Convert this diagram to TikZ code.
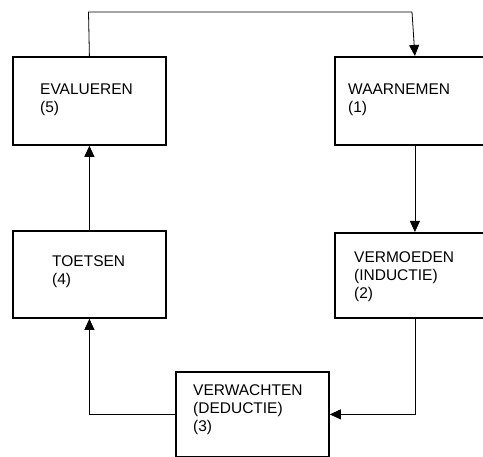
\documentclass[tikz,border=0pt]{standalone}
\usepackage{fontspec}
\setmainfont{Liberation Sans}
\usetikzlibrary{arrows.meta}
\begin{document}
\begin{tikzpicture}[x=1pt,y=-1pt,
  box/.style={draw, line width=1.8pt, rectangle, inner sep=0pt, anchor=north west},
  lbl/.style={anchor=base west, align=left, inner sep=0pt, font=\fontsize{15.5}{18}\selectfont},
  conn/.style={line width=0.8pt, -{Triangle[width=10pt,length=11pt]}}]
\clip (0,0) rectangle (483,457);
\node[box, minimum width=153pt, minimum height=88pt] (eval) at (12,56) {};
\node[box, minimum width=160pt, minimum height=88pt] (waar) at (334,56) {};
\node[box, minimum width=153pt, minimum height=87pt] (toet) at (12,230) {};
\node[box, minimum width=160pt, minimum height=85pt] (verm) at (334,232) {};
\node[box, minimum width=153pt, minimum height=85pt] (verw) at (175,371) {};
\node[lbl] (tEval) at (40,113) {EVALUEREN\\(5)};
\node[lbl] (tWaar) at (348,113) {WAARNEMEN\\(1)};
\node[lbl] (tToet) at (52,285) {TOETSEN\\(4)};
\node[lbl] (tVerm) at (354,299) {VERMOEDEN\\(INDUCTIE)\\(2)};
\node[lbl] (tVerw) at (193,432) {VERWACHTEN\\(DEDUCTIE)\\(3)};
\coordinate (topL) at (88.5,12);
\coordinate (topR) at (412,12);
\draw[conn] (eval.north) -- (topL) -- (topR) -- (waar.north);
\draw[conn] (waar.south) -- (verm.north);
\draw[conn] (verm.south) |- (verw.east);
\draw[conn] (verw.west) -| (toet.south);
\draw[conn] (toet.north) -- (eval.south);
\end{tikzpicture}
\end{document}
